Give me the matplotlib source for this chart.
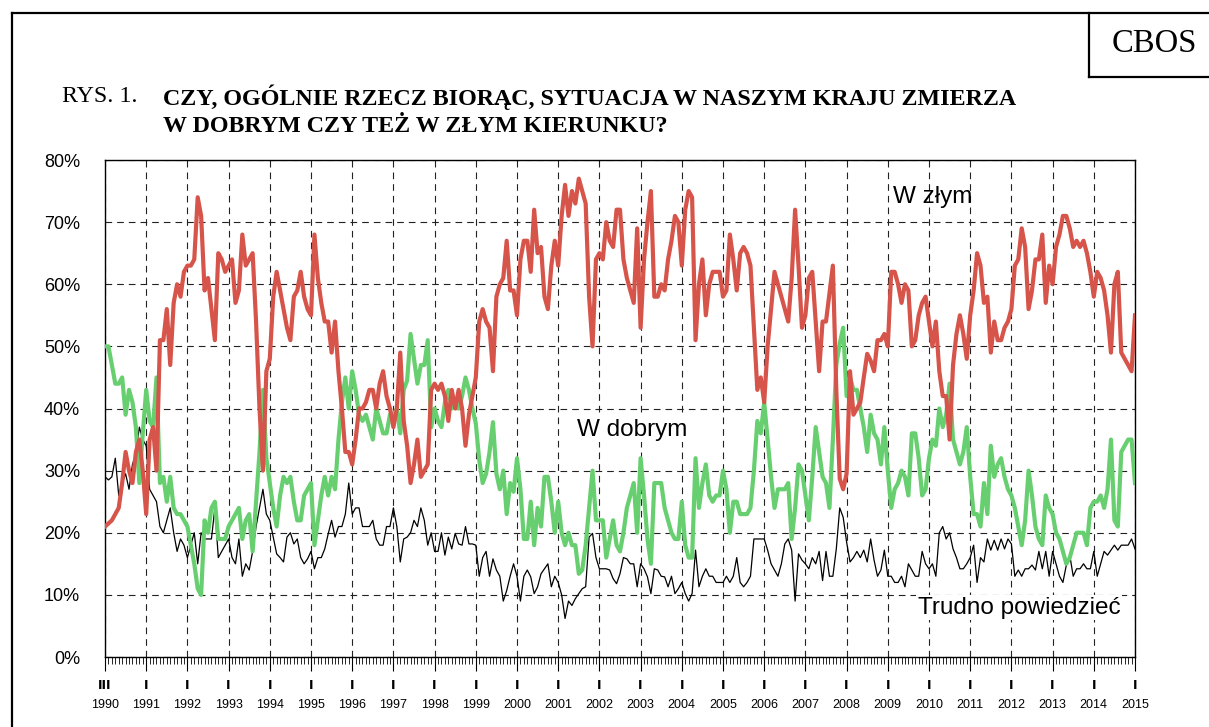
import numpy as np
import matplotlib
matplotlib.use("Agg")
import matplotlib.pyplot as plt
from matplotlib.ticker import MultipleLocator, FixedLocator, FuncFormatter
from matplotlib.lines import Line2D

# Monthly readings, from III 1990 onward (one row per year)
w_zlym = [
    21, 21.5, 22, 23, 24, 28, 33, 30, 28, 33, 35, 30,
    23, 35, 37, 30, 51, 51, 56, 47, 57, 60, 58, 62,
    63, 63, 64, 74, 71, 59, 61, 56, 51, 65, 64, 62,
    63, 64, 57, 59, 68, 63, 64, 65, 54, 40, 30, 46,
    48, 58, 62, 59, 56, 53, 51, 58, 59, 62, 58, 56,
    55, 68, 61, 57, 54, 54, 49, 54, 46, 40, 33, 33,
    31, 35, 40, 40, 41, 43, 43, 40, 44, 46, 42, 40,
    37, 40, 49, 38, 34, 28, 31, 35, 29, 30, 31, 43,
    44, 43, 44, 42, 38, 43, 40, 43, 40, 34, 39, 42,
    45, 54, 56, 54, 53, 46, 58, 60, 61, 67, 59, 59,
    55, 64, 67, 67, 62, 72, 65, 66, 58, 56, 63, 67,
    63, 71, 76, 71, 75, 73, 77, 75, 73, 58, 50, 64,
    65, 64, 70, 67, 66, 72, 72, 64, 61, 59, 57, 69,
    53, 64, 70, 75, 58, 58, 60, 59, 64, 67, 71, 70,
    63, 72, 75, 74, 51, 60, 64, 55, 60, 62, 62, 62,
    58, 59, 68, 64, 59, 65, 66, 65, 63, 53, 43, 45,
    41, 50, 56, 62, 60, 58, 56, 54, 61, 72, 63, 53,
    55, 61, 62, 54, 46, 54, 54, 58.5, 63, 43, 28.7, 27,
    29.5, 46, 39, 40, 41, 45, 48.8, 47.7, 46, 51, 51, 52,
    50, 62, 62, 60, 57, 60, 59, 50, 51, 55, 57, 58,
    54, 50, 54, 46, 42, 42, 35, 47, 52, 55, 52, 48,
    55, 59, 65, 63, 57, 58, 49, 54, 51, 51, 53, 54,
    56, 63, 64, 69, 66, 56, 59, 64, 64, 68, 57, 63,
    60, 66, 68, 71, 71, 69, 66, 67, 66, 67, 65, 62,
    58, 62, 61, 59, 55, 49, 60, 62, 49, 48, 47, 46,
    55,
]

w_dobrym = [
    50, 50, 47, 44, 44, 45, 39, 43, 41, 37, 28, 36,
    43, 38, 37, 45, 28, 29, 25, 29, 24, 23, 23, 22,
    21, 18, 15, 11, 10, 22, 20, 24, 25, 19, 19, 19,
    21, 22, 23, 24, 19, 22, 23, 17, 25, 33, 43, 32,
    28, 24, 21, 26, 29, 28, 29, 25, 22, 22, 26, 27,
    28, 18, 22, 26, 29, 26, 29, 27, 35, 41, 45, 40,
    46, 43, 39, 38, 39, 37, 35, 40, 38, 36, 36, 39,
    39, 40, 36, 43, 44.5, 52, 48, 44, 47, 47, 51, 37,
    40, 38, 37, 41, 43, 40, 40.5, 40, 42, 45, 43, 40,
    37.6, 31.7, 28, 29.5, 33, 37.8, 29.5, 27, 30, 23, 28, 26.6,
    32, 27, 19, 19, 25, 18, 24, 21, 29, 29, 25, 20,
    25, 20, 18, 20, 18, 18, 13.4, 14, 18, 24, 30, 22,
    22, 22, 16, 19, 22, 18, 17, 20, 24, 26, 28, 20,
    32, 26, 19, 15, 28, 28, 28, 24, 22, 20, 19, 19,
    25, 18, 16, 16, 32, 24, 28, 31, 26, 25, 26, 26,
    30, 27, 20, 25, 25, 23, 23, 23, 24, 30, 38, 36,
    41, 35, 29, 24, 27, 27, 27, 28, 19, 24, 31, 30,
    26, 22, 29, 37, 33, 29, 28, 24, 35, 47, 50.5, 53,
    42, 45, 43, 43, 40, 37, 33, 39, 36, 35, 31, 37,
    30, 24, 27, 28, 30, 29, 26, 36, 36, 32, 26, 27,
    32, 35, 34, 40, 37, 39, 44, 35, 33, 31, 33, 37,
    29, 23, 23, 21, 28, 23, 34, 29, 31, 32, 29, 27,
    26, 24, 21, 18, 22, 30, 26, 21, 19, 18, 26, 24,
    23, 20, 19, 17, 15, 16, 18, 20, 20, 20, 18, 24,
    25, 25, 26, 24, 27, 35, 22, 21, 33, 34, 35, 35,
    28,
]

trudno = [
    29, 28.5, 29, 32, 26, 28, 29.5, 27, 31, 32.7, 37, 35,
    34, 27, 26, 25, 21, 20, 22, 24, 20, 17, 19, 18,
    16, 18, 20, 15, 20, 19, 19, 19, 24, 16, 17, 18,
    19, 16, 15, 19, 13, 15, 14, 17, 21, 24, 27, 23,
    22, 19.3, 16.6, 16, 15.3, 19.3, 20, 18.2, 19, 16, 15, 15.8,
    17, 14.2, 16, 16, 17.4, 19.8, 22, 19.3, 21, 21, 23, 28,
    23, 24, 24, 21, 21, 21, 22, 19, 18, 18, 21, 21,
    24, 21, 15.3, 19, 19.3, 20, 22, 21, 24, 22, 18, 20,
    17, 17, 20, 16.4, 19.3, 17.4, 19.9, 18.2, 18, 21, 18.2, 18.2,
    18, 13, 16, 17, 13, 15.8, 14, 13, 9, 10.7, 13, 15,
    13, 9, 13, 14, 12.9, 10.2, 11.3, 13.4, 14.2, 15, 11.3, 13,
    12, 10, 6.2, 9, 8.3, 9.4, 10.2, 11, 11.3, 19.3, 19.9, 16,
    14.2, 14.2, 14.2, 14, 12.6, 11.8, 13.4, 16, 15.8, 15, 15, 11.3,
    15, 14.2, 12.9, 10.2, 14.2, 14, 13, 12.9, 11.3, 13, 10.2, 11,
    12, 10.2, 9, 10.2, 17.2, 11.3, 13, 14.2, 13, 13, 12, 12,
    12, 13, 12, 13, 16, 12, 11.3, 12, 13, 19, 19, 19,
    19, 17.2, 15, 14, 13, 15, 18.2, 19, 17.2, 9, 16.6, 15.6,
    15, 14.2, 16, 15, 17, 12.3, 17, 13, 13, 17.4, 24, 22.5,
    18.5, 15.3, 16, 17, 16, 17.2, 15.3, 19, 15.6, 13, 14, 17.2,
    13, 13, 12, 12, 13, 11.3, 15, 14, 13, 13, 17, 15,
    14.2, 15, 13, 20, 21, 19, 20, 17.4, 16, 14.2, 14.2, 15,
    16, 18, 12, 16, 15.3, 19, 17.2, 18.8, 17.2, 19, 17.4, 19,
    18.2, 13, 14, 13, 14.2, 14.2, 14.8, 14, 17, 14.2, 17, 13,
    17, 15, 13, 12, 14.8, 16.4, 13, 14.2, 14.2, 15, 14.2, 14.2,
    17, 13, 15, 17, 16.4, 17.2, 18, 17.2, 18, 18, 18, 19,
    17.4,
]

years = list(range(1990, 2016))
month_marks = ["III"] + ["I"] * (len(years) - 1)

RED = "#D6544A"
GREEN = "#68CF70"

x = 1990 + np.arange(len(w_zlym)) / 12.0

fig = plt.figure(figsize=(12.09, 7.27), dpi=100)
ax = fig.add_axes([105 / 1209, 1 - 657 / 727, 1030 / 1209, 497 / 727])

ax.plot(x, trudno, color="black", lw=0.9, zorder=3)
ax.plot(x, w_dobrym, color=GREEN, lw=3.0, zorder=4)
ax.plot(x, w_zlym, color=RED, lw=3.0, zorder=5)

ax.set_xlim(1990, 2015)
ax.set_ylim(0, 80)
ax.yaxis.set_major_locator(MultipleLocator(10))
ax.yaxis.set_major_formatter(FuncFormatter(lambda v, p: "%d%%" % round(v)))
ax.xaxis.set_major_locator(FixedLocator(years))
ax.xaxis.set_minor_locator(MultipleLocator(1 / 12))
ax.set_xticklabels([str(y) for y in years])

for lab in ax.get_yticklabels():
    lab.set_fontfamily("Liberation Sans")
    lab.set_fontsize(13)
for lab in ax.get_xticklabels():
    lab.set_fontfamily("Liberation Sans")
    lab.set_fontsize(9)

ax.tick_params(axis="y", length=0, pad=18)
ax.tick_params(axis="x", which="major", direction="out", length=10, width=0.8, pad=20)
ax.tick_params(axis="x", which="minor", direction="out", length=5, width=0.6)

# month marks (III / I) above the year labels
for yr, mk in zip(years, month_marks):
    ax.text(yr, -4.6, mk, fontsize=9, family="DejaVu Sans", fontweight="bold",
            ha="center", va="center", transform=ax.transData, clip_on=False)

ax.grid(True, which="major", color="#222222", lw=0.8, linestyle=(0, (6, 4.5)))
for s in ax.spines.values():
    s.set_linewidth(1.0)

# line labels
lab_kw = dict(fontsize=17.5, family="Liberation Sans", va="center", zorder=2)
ax.text(2009.13, 74.1, "W złym", **lab_kw)
ax.text(2001.46, 36.6, "W dobrym",
        bbox=dict(facecolor="white", edgecolor="none", pad=1), **lab_kw)
ax.text(2009.73, 7.9, "Trudno powiedzieć",
        bbox=dict(facecolor="white", edgecolor="none", pad=1), **lab_kw)

# headings
fig.text(62 / 1209, 1 - 97 / 727, "RYS. 1.", family="Liberation Serif", fontsize=17.3,
         va="center", ha="left")
fig.text(163 / 1209, 1 - 97 / 727, "CZY, OGÓLNIE RZECZ BIORĄC, SYTUACJA W NASZYM KRAJU ZMIERZA",
         family="Liberation Serif", fontsize=17.3, fontweight="bold", va="center", ha="left")
fig.text(163 / 1209, 1 - 127 / 727, "W DOBRYM CZY TEŻ W ZŁYM KIERUNKU?",
         family="Liberation Serif", fontsize=17.3, fontweight="bold", va="center", ha="left")
fig.text(1154 / 1209, 1 - 44 / 727, "CBOS", family="Liberation Serif", fontsize=23.5,
         va="center", ha="center")

# page frame and CBOS box
def px_line(x0, y0, x1, y1):
    fig.add_artist(Line2D([x0 / 1209, x1 / 1209], [1 - y0 / 727, 1 - y1 / 727],
                          color="black", lw=1.6, transform=fig.transFigure))

px_line(12, 13, 1209, 13)
px_line(12, 13, 12, 727)
px_line(1089, 13, 1089, 77)
px_line(1089, 77, 1209, 77)

fig.savefig("out.png", dpi=100)
